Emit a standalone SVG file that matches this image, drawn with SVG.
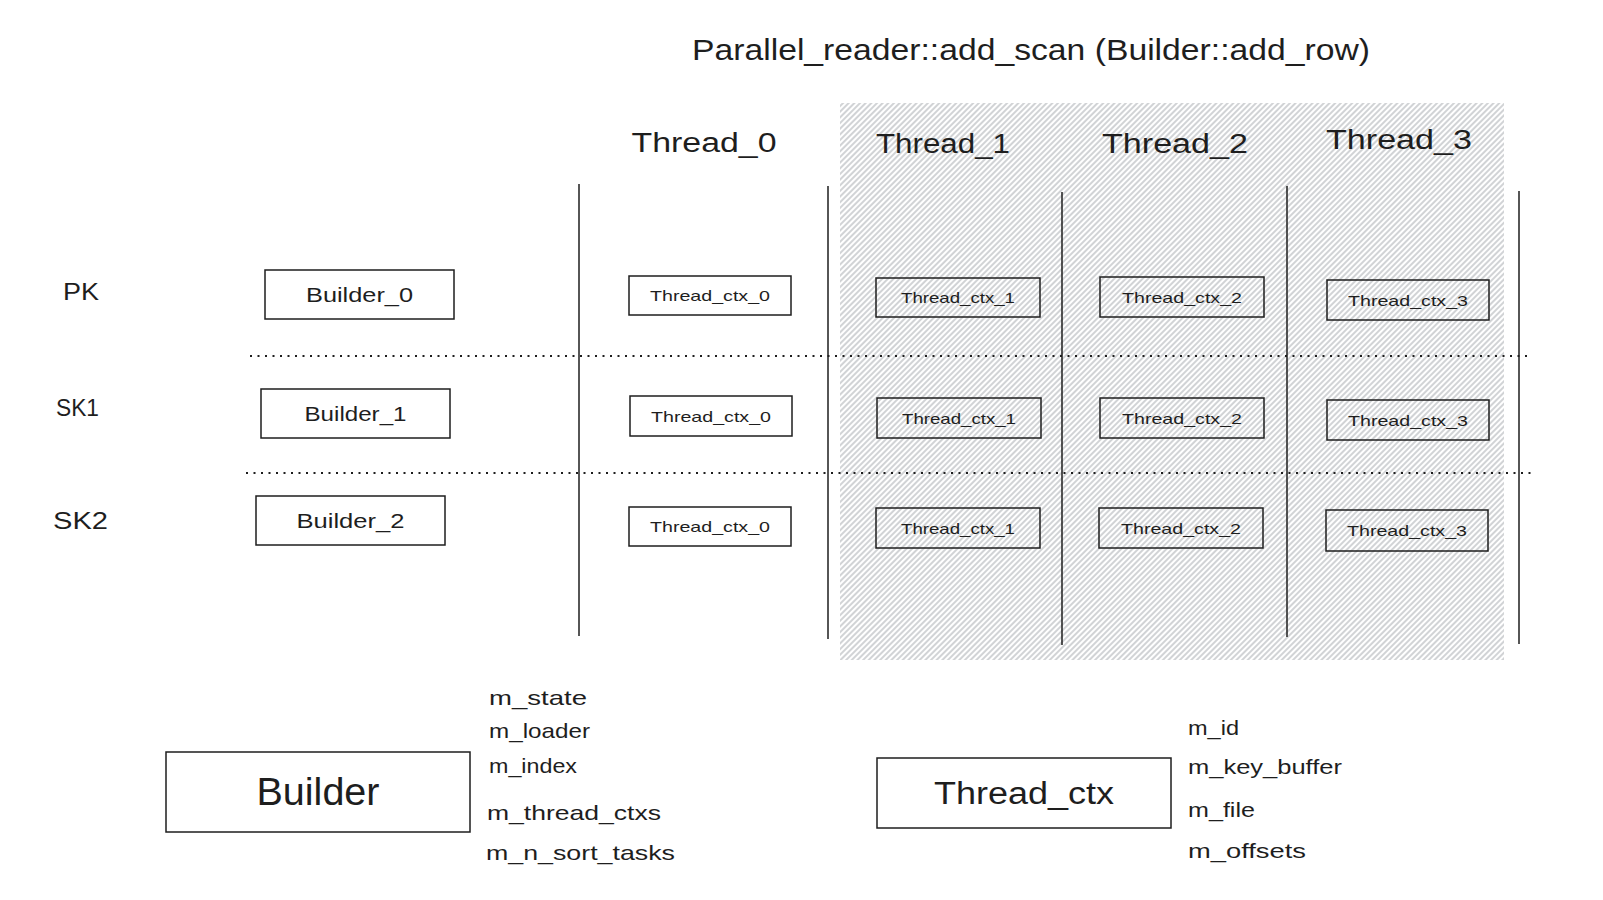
<svg xmlns="http://www.w3.org/2000/svg" width="1603" height="900" viewBox="0 0 1603 900">
<style>
text{font-family:"Liberation Sans","DejaVu Sans",sans-serif;fill:#1e1e1e;dominant-baseline:central}
.c{text-anchor:middle}
.box{fill:none;stroke:#1e1e1e;stroke-width:1.5}
.vl{stroke:#1e1e1e;stroke-width:1.5}
.dl{stroke:#1e1e1e;stroke-width:2;stroke-dasharray:2 5.5}
.tc{font-size:15px}
.bl{font-size:21px}
.hd{font-size:27px}
.mem{font-size:21px}
</style>
<defs>
<pattern id="hatch" width="4" height="10" patternUnits="userSpaceOnUse" patternTransform="rotate(45)">
<line x1="1" y1="0" x2="1" y2="10" stroke="#a3a7ac" stroke-width="1"/>
</pattern>
</defs>
<rect width="1603" height="900" fill="#ffffff"/>
<rect id="hatched-area" x="840" y="103" width="664" height="557" fill="url(#hatch)"/>

<text id="title" class="c" x="1031" y="49" font-size="30" textLength="678" lengthAdjust="spacingAndGlyphs">Parallel_reader::add_scan (Builder::add_row)</text>

<g id="headers">
<text class="c hd" x="704" y="143" textLength="145" lengthAdjust="spacingAndGlyphs">Thread_0</text>
<text class="c hd" x="943" y="144" textLength="134" lengthAdjust="spacingAndGlyphs">Thread_1</text>
<text class="c hd" x="1175" y="144" textLength="146" lengthAdjust="spacingAndGlyphs">Thread_2</text>
<text class="c hd" x="1399" y="140" textLength="146" lengthAdjust="spacingAndGlyphs">Thread_3</text>
</g>

<g id="row-labels">
<text x="63" y="291" font-size="24" textLength="36" lengthAdjust="spacingAndGlyphs">PK</text>
<text x="56" y="407" font-size="24" textLength="43" lengthAdjust="spacingAndGlyphs">SK1</text>
<text x="53" y="520" font-size="24" textLength="55" lengthAdjust="spacingAndGlyphs">SK2</text>
</g>

<g id="connectors">
<line class="vl" x1="579" y1="184" x2="579" y2="636"/>
<line class="vl" x1="828" y1="186" x2="828" y2="639"/>
<line class="vl" x1="1062" y1="192" x2="1062" y2="645"/>
<line class="vl" x1="1287" y1="186" x2="1287" y2="637"/>
<line class="vl" x1="1519" y1="191" x2="1519" y2="644"/>
<line class="dl" x1="250" y1="356" x2="1530" y2="356"/>
<line class="dl" x1="246" y1="473" x2="1533" y2="473"/>
</g>

<g id="builder_0"><rect class="box" x="265" y="270" width="189" height="49"/><text class="c bl" x="359.5" y="294.5" textLength="107" lengthAdjust="spacingAndGlyphs">Builder_0</text></g>
<g id="builder_1"><rect class="box" x="261" y="389" width="189" height="49"/><text class="c bl" x="355.5" y="413.5" textLength="102" lengthAdjust="spacingAndGlyphs">Builder_1</text></g>
<g id="builder_2"><rect class="box" x="256" y="496" width="189" height="49"/><text class="c bl" x="350.5" y="520.5" textLength="108" lengthAdjust="spacingAndGlyphs">Builder_2</text></g>

<g id="pk_thread_ctx_0"><rect class="box" x="629" y="276" width="162" height="39"/><text class="c tc" x="710" y="295.5" textLength="120" lengthAdjust="spacingAndGlyphs">Thread_ctx_0</text></g>
<g id="sk1_thread_ctx_0"><rect class="box" x="630" y="396" width="162" height="40"/><text class="c tc" x="711" y="416" textLength="120" lengthAdjust="spacingAndGlyphs">Thread_ctx_0</text></g>
<g id="sk2_thread_ctx_0"><rect class="box" x="629" y="507" width="162" height="39"/><text class="c tc" x="710" y="526.5" textLength="120" lengthAdjust="spacingAndGlyphs">Thread_ctx_0</text></g>

<g id="pk_thread_ctx_1"><rect class="box" x="876" y="278" width="164" height="39"/><text class="c tc" x="958" y="297.5" textLength="114" lengthAdjust="spacingAndGlyphs">Thread_ctx_1</text></g>
<g id="sk1_thread_ctx_1"><rect class="box" x="877" y="398" width="164" height="40"/><text class="c tc" x="959" y="418" textLength="114" lengthAdjust="spacingAndGlyphs">Thread_ctx_1</text></g>
<g id="sk2_thread_ctx_1"><rect class="box" x="876" y="508" width="164" height="40"/><text class="c tc" x="958" y="528" textLength="114" lengthAdjust="spacingAndGlyphs">Thread_ctx_1</text></g>

<g id="pk_thread_ctx_2"><rect class="box" x="1100" y="277" width="164" height="40"/><text class="c tc" x="1182" y="297" textLength="120" lengthAdjust="spacingAndGlyphs">Thread_ctx_2</text></g>
<g id="sk1_thread_ctx_2"><rect class="box" x="1100" y="398" width="164" height="40"/><text class="c tc" x="1182" y="418" textLength="120" lengthAdjust="spacingAndGlyphs">Thread_ctx_2</text></g>
<g id="sk2_thread_ctx_2"><rect class="box" x="1099" y="508" width="164" height="40"/><text class="c tc" x="1181" y="528" textLength="120" lengthAdjust="spacingAndGlyphs">Thread_ctx_2</text></g>

<g id="pk_thread_ctx_3"><rect class="box" x="1327" y="280" width="162" height="40"/><text class="c tc" x="1408" y="300" textLength="120" lengthAdjust="spacingAndGlyphs">Thread_ctx_3</text></g>
<g id="sk1_thread_ctx_3"><rect class="box" x="1327" y="400" width="162" height="40"/><text class="c tc" x="1408" y="420" textLength="120" lengthAdjust="spacingAndGlyphs">Thread_ctx_3</text></g>
<g id="sk2_thread_ctx_3"><rect class="box" x="1326" y="510" width="162" height="41"/><text class="c tc" x="1407" y="530.5" textLength="120" lengthAdjust="spacingAndGlyphs">Thread_ctx_3</text></g>

<g id="builder"><rect class="box" x="166" y="752" width="304" height="80"/><text class="c" x="318" y="792" font-size="38" textLength="123" lengthAdjust="spacingAndGlyphs">Builder</text></g>
<g id="builder-members">
<text class="mem" x="489" y="697" textLength="98" lengthAdjust="spacingAndGlyphs">m_state</text>
<text class="mem" x="489" y="730" textLength="101" lengthAdjust="spacingAndGlyphs">m_loader</text>
<text class="mem" x="489" y="765" textLength="88" lengthAdjust="spacingAndGlyphs">m_index</text>
<text class="mem" x="487" y="812" textLength="174" lengthAdjust="spacingAndGlyphs">m_thread_ctxs</text>
<text class="mem" x="486" y="852" textLength="189" lengthAdjust="spacingAndGlyphs">m_n_sort_tasks</text>
</g>

<g id="thread_ctx"><rect class="box" x="877" y="758" width="294" height="70"/><text class="c" x="1024" y="793" font-size="31" textLength="180" lengthAdjust="spacingAndGlyphs">Thread_ctx</text></g>
<g id="thread_ctx-members">
<text class="mem" x="1188" y="727" textLength="51" lengthAdjust="spacingAndGlyphs">m_id</text>
<text class="mem" x="1188" y="766" textLength="154" lengthAdjust="spacingAndGlyphs">m_key_buffer</text>
<text class="mem" x="1188" y="809" textLength="67" lengthAdjust="spacingAndGlyphs">m_file</text>
<text class="mem" x="1188" y="850" textLength="118" lengthAdjust="spacingAndGlyphs">m_offsets</text>
</g>
</svg>
